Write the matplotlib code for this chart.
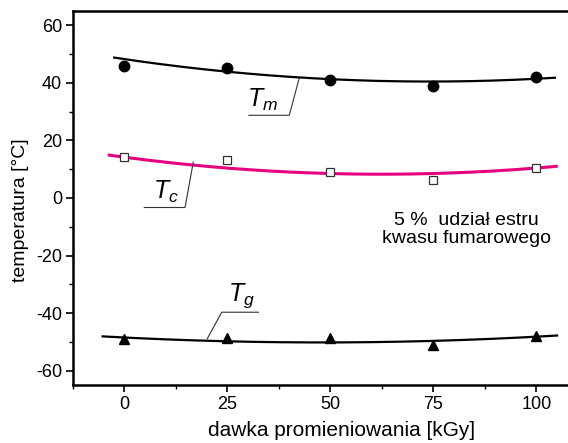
import numpy as np
import matplotlib
matplotlib.use("Agg")
import matplotlib.pyplot as plt

plt.rcParams['font.family'] = ['Liberation Sans', 'DejaVu Sans']
plt.rcParams['mathtext.fontset'] = 'custom'
plt.rcParams['mathtext.rm'] = 'Liberation Sans'
plt.rcParams['mathtext.it'] = 'Liberation Sans:italic'
plt.rcParams['axes.unicode_minus'] = False

# dose [kGy]
dose = [0, 25, 50, 75, 100]
# measured temperatures [°C]
t_m = [46.0, 45.2, 40.9, 38.8, 42.0]
t_c = [14.3, 13.1, 9.1, 6.2, 10.6]
t_g = [-48.9, -48.7, -48.7, -51.0, -47.8]

# quadratic fit coefficients (highest power first) and fit ranges
tm_fit = [0.001421, -0.2104, 48.27]
tc_fit = [0.001519, -0.1895, 14.18]
tg_fit = [0.00074, -0.07105, -48.50]
tm_range = [-2.5, 104.5]
tc_range = [-3.7, 104.8]
tg_range = [-5.3, 105.0]

x_ticks = [0, 25, 50, 75, 100]
y_ticks = [-60, -40, -20, 0, 20, 40, 60]

fig = plt.figure(figsize=(5.68, 4.43), dpi=100)
# axes runs past the right edge of the picture (cropped original)
ax_w = 537.6
ax = fig.add_axes([73 / 568, 1 - 385 / 443, ax_w / 568, 374 / 443])

for fit, rng in [(tm_fit, tm_range), (tg_fit, tg_range)]:
    xx = np.linspace(rng[0], rng[1], 200)
    ax.plot(xx, np.polyval(fit, xx), color="black", lw=1.6, zorder=2)
xx = np.linspace(tc_range[0], tc_range[1], 200)
ax.plot(xx, np.polyval(tc_fit, xx), color="#e5007e", lw=2.2, zorder=2)

ax.plot(dose, t_m, "o", color="black", ms=7.5, zorder=3)
ax.plot(dose, t_c, "s", mfc="white", mec="#333333", mew=0.9, ms=6, zorder=3)
ax.plot(dose, t_g, "^", color="black", ms=7.5, zorder=3)

# leader lines for labels
ax.plot([42.4, 40.0, 30.2], [41.6, 28.75, 28.75], color="#333333", lw=0.8)
ax.plot([16.7, 14.7, 4.8], [12.5, -3.3, -3.3], color="#333333", lw=0.8)
ax.plot([20.1, 23.6, 32.5], [-48.9, -39.7, -39.7], color="#333333", lw=0.8)

ax.text(33.5, 29.6, r"$T_m$", fontsize=18, ha="center", va="bottom")
ax.text(10.0, -2.4, r"$T_c$", fontsize=18, ha="center", va="bottom")
ax.text(28.5, -39.0, r"$T_g$", fontsize=18, ha="center", va="bottom")

ax.text(83, -11, "5 %  udział estru\nkwasu fumarowego", fontsize=14,
        ha="center", va="center", linespacing=1.1)

ax.set_xlim(-10, 118)
ax.set_ylim(-65, 65)
ax.set_xticks(x_ticks)
ax.set_yticks(y_ticks)
ax.set_xticks(np.arange(-12.5, 110, 25), minor=True)
ax.set_yticks(np.arange(-50, 61, 20), minor=True)
ax.tick_params(which="major", direction="out", length=5, width=1.2,
               labelsize=13, pad=3)
ax.tick_params(which="minor", direction="out", length=3, width=1.0)
for s in ax.spines.values():
    s.set_linewidth(1.8)

ax.set_xlabel("dawka promieniowania [kGy]", fontsize=15, labelpad=6)
ax.set_ylabel("temperatura [°C]", fontsize=14)
ax.yaxis.set_label_coords((29 - 73) / ax_w, (385 - 210) / 374)

fig.savefig("out.png", dpi=100)
